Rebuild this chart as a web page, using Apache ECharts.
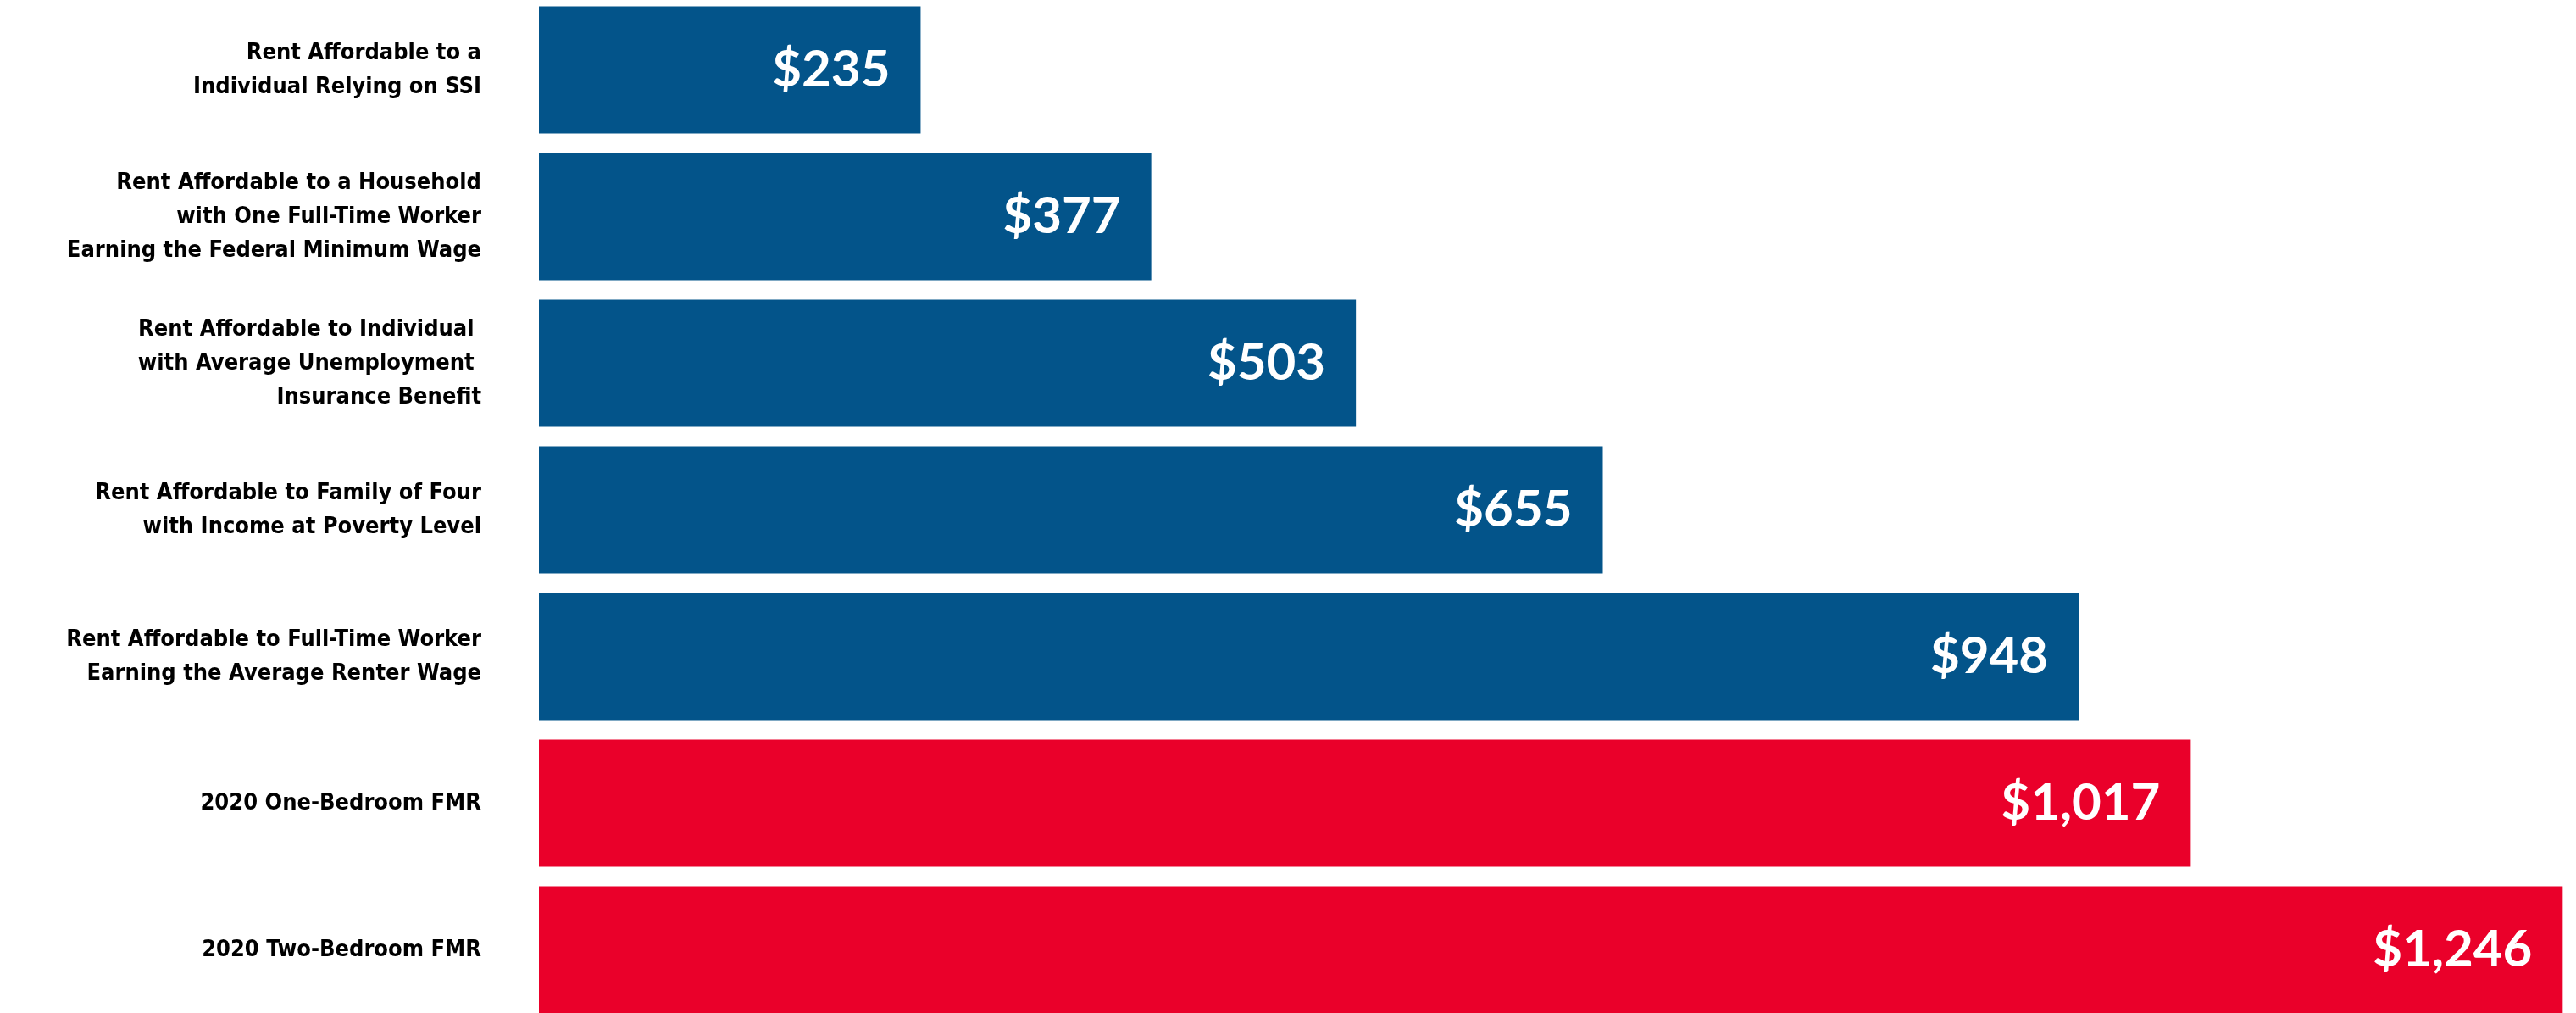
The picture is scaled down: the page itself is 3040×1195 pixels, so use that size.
<!DOCTYPE html>
<html>
<head>
<meta charset="utf-8">
<script src="https://cdn.jsdelivr.net/npm/echarts@6/dist/echarts.min.js"></script>
<style>
  html, body { margin: 0; padding: 0; background: #fff; }
  #chart { width: 3040px; height: 1195px; }
</style>
</head>
<body>
<div id="chart"></div>
<script>
// categories, top to bottom
const categories = [
  'Rent Affordable to a\nIndividual Relying on SSI',
  'Rent Affordable to a Household\nwith One Full-Time Worker\nEarning the Federal Minimum Wage',
  'Rent Affordable to Individual \nwith Average Unemployment \nInsurance Benefit',
  'Rent Affordable to Family of Four\nwith Income at Poverty Level',
  'Rent Affordable to Full-Time Worker\nEarning the Average Renter Wage',
  '2020 One-Bedroom FMR',
  '2020 Two-Bedroom FMR'
]
// monthly rent, dollars
const rents = [235, 377, 503, 655, 948, 1017, 1246]

const BLUE = '#03548a'
const RED = '#ea002a'

const chart = echarts.init(document.getElementById('chart'))

const option = {
  animation: false,
  grid: {
    left: 636,
    right: 8,
    top: -4,
    bottom: -12,
    containLabel: false,
    outerBoundsMode: 'none'
  },
  xAxis: {
    type: 'value',
    min: 0,
    max: 1250,
    show: false
  },
  yAxis: {
    type: 'category',
    data: categories,
    inverse: true,
    axisLine: { show: false },
    axisTick: { show: false },
    splitLine: { show: false },
    axisLabel: {
      margin: 68,
      align: 'right',
      color: '#000',
      fontFamily: '"DejaVu Sans Condensed", "Liberation Sans Narrow", sans-serif',
      fontWeight: 'bold',
      fontSize: 27,
      lineHeight: 40
    }
  },
  series: [
    {
      type: 'bar',
      data: rents,
      barWidth: 150,
      itemStyle: {
        // FMR bars in red, affordable rents in blue
        color: (p) => categories[p.dataIndex].includes('FMR') ? RED : BLUE
      },
      label: {
        show: true,
        position: 'insideRight',
        distance: 36,
        color: '#fff',
        fontFamily: 'Lato, Roboto, sans-serif',
        fontWeight: 'bold',
        fontSize: 60,
        formatter: (p) => '$' + p.value.toLocaleString('en-US')
      }
    }
  ]
}

chart.setOption(option)
</script>
</body>
</html>
